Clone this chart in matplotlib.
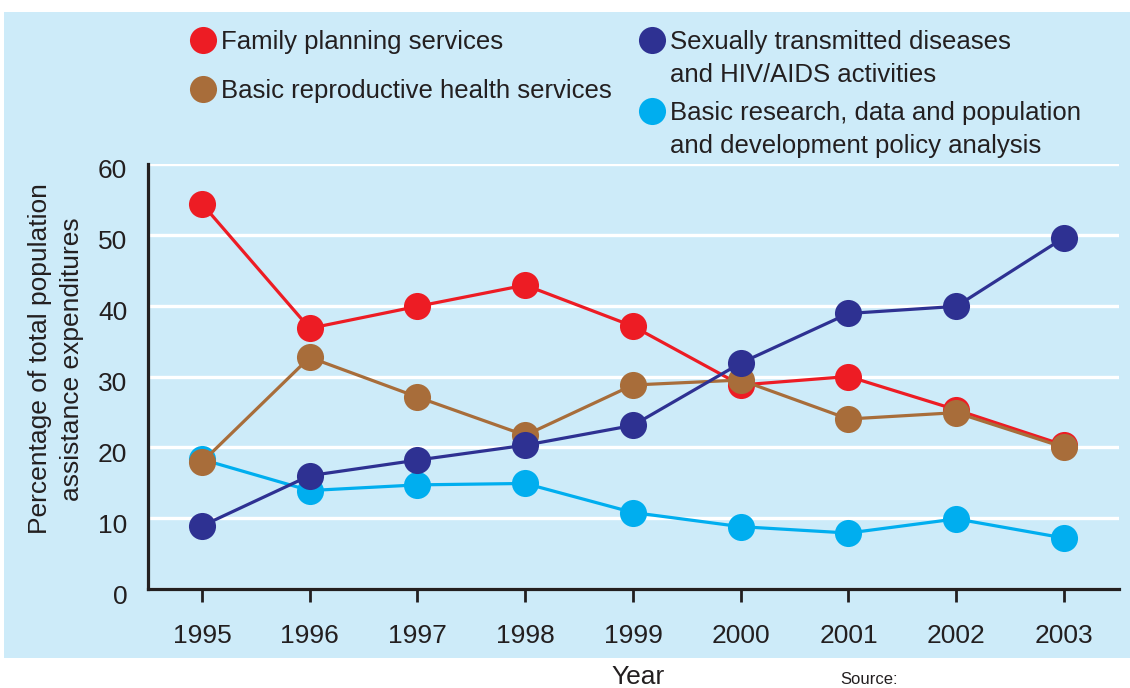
import matplotlib.pyplot as plt
import matplotlib as mpl
from matplotlib.patches import Rectangle
from matplotlib.lines import Line2D
from matplotlib.transforms import ScaledTranslation

mpl.rcParams['font.family'] = ['Liberation Sans', 'DejaVu Sans']

# --- data --- #
years = [1995, 1996, 1997, 1998, 1999, 2000, 2001, 2002, 2003]
family_planning = [54.4, 36.8, 39.9, 42.9, 37.1, 28.8, 30.0, 25.3, 20.3]
reproductive_health = [17.9, 32.7, 27.1, 21.7, 28.8, 29.5, 24.0, 24.9, 20.0]
std_hiv = [8.9, 16.0, 18.2, 20.3, 23.1, 31.9, 38.9, 39.9, 49.6]
research_policy = [18.3, 13.9, 14.7, 14.9, 10.8, 8.8, 7.9, 9.9, 7.2]
y_ticks = [0, 10, 20, 30, 40, 50, 60]

# --- style --- #
panel_color = '#CDEBF9'
text_color = '#231F20'
red = '#ED1C24'
brown = '#A86D3A'
navy = '#2E3192'
cyan = '#00AEEF'

fig = plt.figure(figsize=(11.3, 6.88), dpi=100, facecolor='white')
fig.patches.append(Rectangle((4 / 1130, 30 / 688), 1 - 4 / 1130, 646 / 688,
                             transform=fig.transFigure, facecolor=panel_color,
                             edgecolor='none', zorder=-10))

ax = fig.add_axes([148 / 1130, 99 / 688, 971 / 1130, 425 / 688])
ax.set_facecolor(panel_color)

series = [
    (research_policy, cyan, 2),
    (family_planning, red, 3),
    (reproductive_health, brown, 4),
    (std_hiv, navy, 5),
]
for values, color, z in series:
    ax.plot(years, values, color=color, lw=2.3, marker='o', ms=19.5,
            markeredgewidth=0, zorder=z, clip_on=False)

ax.set_xlim(1994.5, 2003.51)
ax.set_ylim(0, 60)
ax.set_xticks(years)
ax.set_yticks(y_ticks)
ax.set_yticklabels([str(v) for v in y_ticks])
ax.yaxis.grid(True, color='white', lw=2.4)
ax.set_axisbelow(True)

for side in ['top', 'right']:
    ax.spines[side].set_visible(False)
for side in ['left', 'bottom']:
    ax.spines[side].set_color(text_color)
    ax.spines[side].set_linewidth(2.3)

ax.tick_params(axis='x', length=9, width=2, color=text_color, pad=16,
               labelsize=19, labelcolor=text_color)
ax.tick_params(axis='y', length=0, pad=15, labelsize=19, labelcolor=text_color)

# y labels sit a little below their gridlines in the original
shift = ScaledTranslation(0, -5 / 100, fig.dpi_scale_trans)
for lab in ax.get_yticklabels():
    lab.set_transform(lab.get_transform() + shift)

fig.text(56 / 1130, 1 - 359 / 688,
         'Percentage of total population\nassistance expenditures',
         rotation=90, ha='center', va='center', multialignment='center',
         fontsize=19, color=text_color, linespacing=1.4)
fig.text(638 / 1130, 1 - 677 / 688, 'Year', ha='center', va='center',
         fontsize=19, color=text_color)
fig.text(840 / 1130, 1 / 688, 'Source:', ha='left', va='bottom',
         fontsize=12, color=text_color)

# legend drawn by hand
legend_items = [
    (203, 40, red, 'Family planning services'),
    (203, 89, brown, 'Basic reproductive health services'),
    (652, 40, navy, 'Sexually transmitted diseases\nand HIV/AIDS activities'),
    (652, 111, cyan, 'Basic research, data and population\nand development policy analysis'),
]
for px, py, color, label in legend_items:
    fig.add_artist(Line2D([px / 1130], [1 - py / 688], marker='o', ms=19.5,
                          color=color, markeredgewidth=0,
                          transform=fig.transFigure))
    fig.text((px + 18) / 1130, 1 - (py - 10) / 688, label, ha='left', va='top',
             fontsize=18.5, color=text_color, linespacing=1.5)

plt.savefig('out.png', dpi=100, facecolor='white')
